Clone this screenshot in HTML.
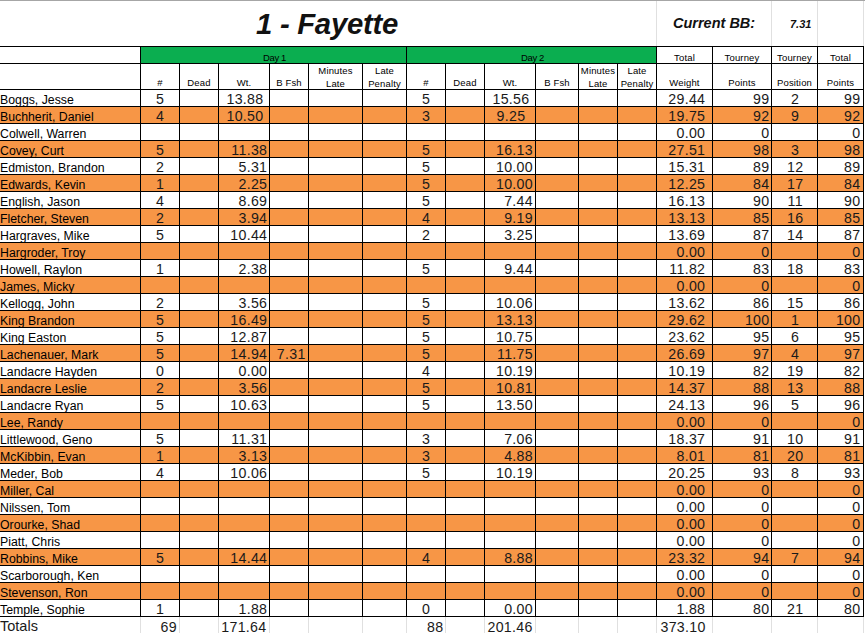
<!DOCTYPE html>
<html><head><meta charset="utf-8"><title>1 - Fayette</title>
<style>
html,body{margin:0;padding:0;background:#fff;}
body{width:865px;height:633px;overflow:hidden;position:relative;font-family:"Liberation Sans",sans-serif;color:#1a1a1a;}
div{position:absolute;white-space:nowrap;box-sizing:border-box;}
.h{background:#000;height:1px;}
.v{background:#000;width:1px;}
.g{background:#e0e0e0;}
.o{background:#F79646;left:0;width:864px;height:16px;}
.n{font-size:12.3px;color:#000;left:0px;height:16px;line-height:17px;margin-top:1.7px;}
.c{font-size:14.2px;letter-spacing:0.3px;text-align:center;height:16px;line-height:17px;margin-top:1px;}
.r{font-size:14.2px;letter-spacing:0.3px;text-align:right;height:16px;line-height:17px;margin-top:1px;}
.hd{font-size:9.5px;letter-spacing:0.15px;text-align:center;line-height:13px;color:#000;}
</style></head><body>
<div class="g" style="left:0;top:0;width:865px;height:1px;background:#a6a6a6"></div>
<div class="g" style="left:656px;top:1px;width:1px;height:45px"></div>
<div class="g" style="left:771px;top:1px;width:1px;height:45px"></div>
<div class="g" style="left:817px;top:1px;width:1px;height:45px"></div>
<div class="g" style="left:863px;top:1px;width:1px;height:45px"></div>
<div style="left:256px;top:7.6px;font-size:29.3px;letter-spacing:-0.27px;font-weight:bold;font-style:italic;line-height:32px;color:#111">1 - Fayette</div>
<div style="left:673px;top:14px;font-size:14.5px;font-weight:bold;font-style:italic;line-height:18px;color:#111">Current BB:</div>
<div style="left:790px;top:17px;font-size:11px;font-weight:bold;font-style:italic;line-height:14px;color:#111">7.31</div>
<div style="left:141px;top:47px;width:515px;height:16px;background:#0BAE50"></div>
<div class="o" style="top:107px"></div>
<div class="o" style="top:141px"></div>
<div class="o" style="top:175px"></div>
<div class="o" style="top:209px"></div>
<div class="o" style="top:243px"></div>
<div class="o" style="top:277px"></div>
<div class="o" style="top:311px"></div>
<div class="o" style="top:345px"></div>
<div class="o" style="top:379px"></div>
<div class="o" style="top:413px"></div>
<div class="o" style="top:447px"></div>
<div class="o" style="top:481px"></div>
<div class="o" style="top:515px"></div>
<div class="o" style="top:549px"></div>
<div class="o" style="top:583px"></div>
<div class="h" style="left:0;top:46px;width:864px"></div>
<div class="h" style="left:0;top:63px;width:864px"></div>
<div class="h" style="left:0;top:89px;width:864px"></div>
<div class="h" style="left:0;top:106px;width:864px"></div>
<div class="h" style="left:0;top:123px;width:864px"></div>
<div class="h" style="left:0;top:140px;width:864px"></div>
<div class="h" style="left:0;top:157px;width:864px"></div>
<div class="h" style="left:0;top:174px;width:864px"></div>
<div class="h" style="left:0;top:191px;width:864px"></div>
<div class="h" style="left:0;top:208px;width:864px"></div>
<div class="h" style="left:0;top:225px;width:864px"></div>
<div class="h" style="left:0;top:242px;width:864px"></div>
<div class="h" style="left:0;top:259px;width:864px"></div>
<div class="h" style="left:0;top:276px;width:864px"></div>
<div class="h" style="left:0;top:293px;width:864px"></div>
<div class="h" style="left:0;top:310px;width:864px"></div>
<div class="h" style="left:0;top:327px;width:864px"></div>
<div class="h" style="left:0;top:344px;width:864px"></div>
<div class="h" style="left:0;top:361px;width:864px"></div>
<div class="h" style="left:0;top:378px;width:864px"></div>
<div class="h" style="left:0;top:395px;width:864px"></div>
<div class="h" style="left:0;top:412px;width:864px"></div>
<div class="h" style="left:0;top:429px;width:864px"></div>
<div class="h" style="left:0;top:446px;width:864px"></div>
<div class="h" style="left:0;top:463px;width:864px"></div>
<div class="h" style="left:0;top:480px;width:864px"></div>
<div class="h" style="left:0;top:497px;width:864px"></div>
<div class="h" style="left:0;top:514px;width:864px"></div>
<div class="h" style="left:0;top:531px;width:864px"></div>
<div class="h" style="left:0;top:548px;width:864px"></div>
<div class="h" style="left:0;top:565px;width:864px"></div>
<div class="h" style="left:0;top:582px;width:864px"></div>
<div class="h" style="left:0;top:599px;width:864px"></div>
<div class="h" style="left:0;top:616px;width:864px"></div>
<div class="v" style="left:140px;top:46px;height:571px"></div>
<div class="v" style="left:179px;top:63px;height:554px"></div>
<div class="v" style="left:218px;top:63px;height:554px"></div>
<div class="v" style="left:269px;top:63px;height:554px"></div>
<div class="v" style="left:308px;top:63px;height:554px"></div>
<div class="v" style="left:362px;top:63px;height:554px"></div>
<div class="v" style="left:406px;top:46px;height:571px"></div>
<div class="v" style="left:445px;top:63px;height:554px"></div>
<div class="v" style="left:484px;top:63px;height:554px"></div>
<div class="v" style="left:535px;top:63px;height:554px"></div>
<div class="v" style="left:578px;top:63px;height:554px"></div>
<div class="v" style="left:617px;top:63px;height:554px"></div>
<div class="v" style="left:656px;top:46px;height:571px"></div>
<div class="v" style="left:712px;top:46px;height:571px"></div>
<div class="v" style="left:771px;top:46px;height:571px"></div>
<div class="v" style="left:817px;top:46px;height:571px"></div>
<div class="v" style="left:863px;top:46px;height:571px"></div>
<div class="g" style="left:140px;top:617px;width:1px;height:16px"></div>
<div class="g" style="left:179px;top:617px;width:1px;height:16px"></div>
<div class="g" style="left:218px;top:617px;width:1px;height:16px"></div>
<div class="g" style="left:269px;top:617px;width:1px;height:16px"></div>
<div class="g" style="left:308px;top:617px;width:1px;height:16px"></div>
<div class="g" style="left:362px;top:617px;width:1px;height:16px"></div>
<div class="g" style="left:406px;top:617px;width:1px;height:16px"></div>
<div class="g" style="left:445px;top:617px;width:1px;height:16px"></div>
<div class="g" style="left:484px;top:617px;width:1px;height:16px"></div>
<div class="g" style="left:535px;top:617px;width:1px;height:16px"></div>
<div class="g" style="left:578px;top:617px;width:1px;height:16px"></div>
<div class="g" style="left:617px;top:617px;width:1px;height:16px"></div>
<div class="g" style="left:656px;top:617px;width:1px;height:16px"></div>
<div class="g" style="left:712px;top:617px;width:1px;height:16px"></div>
<div class="g" style="left:771px;top:617px;width:1px;height:16px"></div>
<div class="g" style="left:817px;top:617px;width:1px;height:16px"></div>
<div class="g" style="left:863px;top:617px;width:1px;height:16px"></div>
<div class="hd" style="left:141px;top:50.8px;width:267px;letter-spacing:-0.4px">Day 1</div>
<div class="hd" style="left:407px;top:50.8px;width:251px;letter-spacing:-0.4px">Day 2</div>
<div class="hd" style="left:657px;top:50.8px;width:55px">Total</div>
<div class="hd" style="left:713px;top:50.8px;width:58px">Tourney</div>
<div class="hd" style="left:772px;top:50.8px;width:45px">Tourney</div>
<div class="hd" style="left:818px;top:50.8px;width:45px">Total</div>
<div class="hd" style="left:141px;top:76.4px;width:38px">#</div>
<div class="hd" style="left:180px;top:76.4px;width:38px">Dead</div>
<div class="hd" style="left:219px;top:76.4px;width:50px">Wt.</div>
<div class="hd" style="left:270px;top:76.4px;width:38px">B Fsh</div>
<div class="hd" style="left:309px;top:63.5px;width:53px">Minutes<br>Late</div>
<div class="hd" style="left:363px;top:63.5px;width:43px">Late<br>Penalty</div>
<div class="hd" style="left:407px;top:76.4px;width:38px">#</div>
<div class="hd" style="left:446px;top:76.4px;width:38px">Dead</div>
<div class="hd" style="left:485px;top:76.4px;width:50px">Wt.</div>
<div class="hd" style="left:536px;top:76.4px;width:42px">B Fsh</div>
<div class="hd" style="left:579px;top:63.5px;width:38px">Minutes<br>Late</div>
<div class="hd" style="left:618px;top:63.5px;width:38px">Late<br>Penalty</div>
<div class="hd" style="left:657px;top:76.4px;width:55px">Weight</div>
<div class="hd" style="left:713px;top:76.4px;width:58px">Points</div>
<div class="hd" style="left:772px;top:76.4px;width:45px">Position</div>
<div class="hd" style="left:818px;top:76.4px;width:45px">Points</div>
<div class="n" style="top:90px">Boggs, Jesse</div>
<div class="c" style="left:141px;top:90px;width:38px">5</div>
<div class="c" style="left:220px;top:90px;width:50px">13.88</div>
<div class="c" style="left:407px;top:90px;width:38px">5</div>
<div class="c" style="left:486px;top:90px;width:50px">15.56</div>
<div class="r" style="left:657px;top:90px;width:48.3px">29.44</div>
<div class="r" style="left:713px;top:90px;width:56.5px">99</div>
<div class="c" style="left:772.7px;top:90px;width:45px">2</div>
<div class="r" style="left:818px;top:90px;width:42.5px">99</div>
<div class="n" style="top:107px">Buchherit, Daniel</div>
<div class="c" style="left:141px;top:107px;width:38px">4</div>
<div class="c" style="left:220px;top:107px;width:50px">10.50</div>
<div class="c" style="left:407px;top:107px;width:38px">3</div>
<div class="c" style="left:486px;top:107px;width:50px">9.25</div>
<div class="r" style="left:657px;top:107px;width:48.3px">19.75</div>
<div class="r" style="left:713px;top:107px;width:56.5px">92</div>
<div class="c" style="left:772.7px;top:107px;width:45px">9</div>
<div class="r" style="left:818px;top:107px;width:42.5px">92</div>
<div class="n" style="top:124px">Colwell, Warren</div>
<div class="r" style="left:657px;top:124px;width:48.3px">0.00</div>
<div class="r" style="left:713px;top:124px;width:56.5px">0</div>
<div class="r" style="left:818px;top:124px;width:42.5px">0</div>
<div class="n" style="top:141px">Covey, Curt</div>
<div class="c" style="left:141px;top:141px;width:38px">5</div>
<div class="r" style="left:219px;top:141px;width:48.3px">11.38</div>
<div class="c" style="left:407px;top:141px;width:38px">5</div>
<div class="r" style="left:485px;top:141px;width:48px">16.13</div>
<div class="r" style="left:657px;top:141px;width:48.3px">27.51</div>
<div class="r" style="left:713px;top:141px;width:56.5px">98</div>
<div class="c" style="left:772.7px;top:141px;width:45px">3</div>
<div class="r" style="left:818px;top:141px;width:42.5px">98</div>
<div class="n" style="top:158px">Edmiston, Brandon</div>
<div class="c" style="left:141px;top:158px;width:38px">2</div>
<div class="r" style="left:219px;top:158px;width:48.3px">5.31</div>
<div class="c" style="left:407px;top:158px;width:38px">5</div>
<div class="r" style="left:485px;top:158px;width:48px">10.00</div>
<div class="r" style="left:657px;top:158px;width:48.3px">15.31</div>
<div class="r" style="left:713px;top:158px;width:56.5px">89</div>
<div class="c" style="left:772.7px;top:158px;width:45px">12</div>
<div class="r" style="left:818px;top:158px;width:42.5px">89</div>
<div class="n" style="top:175px">Edwards, Kevin</div>
<div class="c" style="left:141px;top:175px;width:38px">1</div>
<div class="r" style="left:219px;top:175px;width:48.3px">2.25</div>
<div class="c" style="left:407px;top:175px;width:38px">5</div>
<div class="r" style="left:485px;top:175px;width:48px">10.00</div>
<div class="r" style="left:657px;top:175px;width:48.3px">12.25</div>
<div class="r" style="left:713px;top:175px;width:56.5px">84</div>
<div class="c" style="left:772.7px;top:175px;width:45px">17</div>
<div class="r" style="left:818px;top:175px;width:42.5px">84</div>
<div class="n" style="top:192px">English, Jason</div>
<div class="c" style="left:141px;top:192px;width:38px">4</div>
<div class="r" style="left:219px;top:192px;width:48.3px">8.69</div>
<div class="c" style="left:407px;top:192px;width:38px">5</div>
<div class="r" style="left:485px;top:192px;width:48px">7.44</div>
<div class="r" style="left:657px;top:192px;width:48.3px">16.13</div>
<div class="r" style="left:713px;top:192px;width:56.5px">90</div>
<div class="c" style="left:772.7px;top:192px;width:45px">11</div>
<div class="r" style="left:818px;top:192px;width:42.5px">90</div>
<div class="n" style="top:209px">Fletcher, Steven</div>
<div class="c" style="left:141px;top:209px;width:38px">2</div>
<div class="r" style="left:219px;top:209px;width:48.3px">3.94</div>
<div class="c" style="left:407px;top:209px;width:38px">4</div>
<div class="r" style="left:485px;top:209px;width:48px">9.19</div>
<div class="r" style="left:657px;top:209px;width:48.3px">13.13</div>
<div class="r" style="left:713px;top:209px;width:56.5px">85</div>
<div class="c" style="left:772.7px;top:209px;width:45px">16</div>
<div class="r" style="left:818px;top:209px;width:42.5px">85</div>
<div class="n" style="top:226px">Hargraves, Mike</div>
<div class="c" style="left:141px;top:226px;width:38px">5</div>
<div class="r" style="left:219px;top:226px;width:48.3px">10.44</div>
<div class="c" style="left:407px;top:226px;width:38px">2</div>
<div class="r" style="left:485px;top:226px;width:48px">3.25</div>
<div class="r" style="left:657px;top:226px;width:48.3px">13.69</div>
<div class="r" style="left:713px;top:226px;width:56.5px">87</div>
<div class="c" style="left:772.7px;top:226px;width:45px">14</div>
<div class="r" style="left:818px;top:226px;width:42.5px">87</div>
<div class="n" style="top:243px">Hargroder, Troy</div>
<div class="r" style="left:657px;top:243px;width:48.3px">0.00</div>
<div class="r" style="left:713px;top:243px;width:56.5px">0</div>
<div class="r" style="left:818px;top:243px;width:42.5px">0</div>
<div class="n" style="top:260px">Howell, Raylon</div>
<div class="c" style="left:141px;top:260px;width:38px">1</div>
<div class="r" style="left:219px;top:260px;width:48.3px">2.38</div>
<div class="c" style="left:407px;top:260px;width:38px">5</div>
<div class="r" style="left:485px;top:260px;width:48px">9.44</div>
<div class="r" style="left:657px;top:260px;width:48.3px">11.82</div>
<div class="r" style="left:713px;top:260px;width:56.5px">83</div>
<div class="c" style="left:772.7px;top:260px;width:45px">18</div>
<div class="r" style="left:818px;top:260px;width:42.5px">83</div>
<div class="n" style="top:277px">James, Micky</div>
<div class="r" style="left:657px;top:277px;width:48.3px">0.00</div>
<div class="r" style="left:713px;top:277px;width:56.5px">0</div>
<div class="r" style="left:818px;top:277px;width:42.5px">0</div>
<div class="n" style="top:294px">Kellogg, John</div>
<div class="c" style="left:141px;top:294px;width:38px">2</div>
<div class="r" style="left:219px;top:294px;width:48.3px">3.56</div>
<div class="c" style="left:407px;top:294px;width:38px">5</div>
<div class="r" style="left:485px;top:294px;width:48px">10.06</div>
<div class="r" style="left:657px;top:294px;width:48.3px">13.62</div>
<div class="r" style="left:713px;top:294px;width:56.5px">86</div>
<div class="c" style="left:772.7px;top:294px;width:45px">15</div>
<div class="r" style="left:818px;top:294px;width:42.5px">86</div>
<div class="n" style="top:311px">King Brandon</div>
<div class="c" style="left:141px;top:311px;width:38px">5</div>
<div class="r" style="left:219px;top:311px;width:48.3px">16.49</div>
<div class="c" style="left:407px;top:311px;width:38px">5</div>
<div class="r" style="left:485px;top:311px;width:48px">13.13</div>
<div class="r" style="left:657px;top:311px;width:48.3px">29.62</div>
<div class="r" style="left:713px;top:311px;width:56.5px">100</div>
<div class="c" style="left:772.7px;top:311px;width:45px">1</div>
<div class="r" style="left:818px;top:311px;width:42.5px">100</div>
<div class="n" style="top:328px">King Easton</div>
<div class="c" style="left:141px;top:328px;width:38px">5</div>
<div class="r" style="left:219px;top:328px;width:48.3px">12.87</div>
<div class="c" style="left:407px;top:328px;width:38px">5</div>
<div class="r" style="left:485px;top:328px;width:48px">10.75</div>
<div class="r" style="left:657px;top:328px;width:48.3px">23.62</div>
<div class="r" style="left:713px;top:328px;width:56.5px">95</div>
<div class="c" style="left:772.7px;top:328px;width:45px">6</div>
<div class="r" style="left:818px;top:328px;width:42.5px">95</div>
<div class="n" style="top:345px">Lachenauer, Mark</div>
<div class="c" style="left:141px;top:345px;width:38px">5</div>
<div class="r" style="left:219px;top:345px;width:48.3px">14.94</div>
<div class="r" style="left:270px;top:345px;width:35.7px">7.31</div>
<div class="c" style="left:407px;top:345px;width:38px">5</div>
<div class="r" style="left:485px;top:345px;width:48px">11.75</div>
<div class="r" style="left:657px;top:345px;width:48.3px">26.69</div>
<div class="r" style="left:713px;top:345px;width:56.5px">97</div>
<div class="c" style="left:772.7px;top:345px;width:45px">4</div>
<div class="r" style="left:818px;top:345px;width:42.5px">97</div>
<div class="n" style="top:362px">Landacre Hayden</div>
<div class="c" style="left:141px;top:362px;width:38px">0</div>
<div class="r" style="left:219px;top:362px;width:48.3px">0.00</div>
<div class="c" style="left:407px;top:362px;width:38px">4</div>
<div class="r" style="left:485px;top:362px;width:48px">10.19</div>
<div class="r" style="left:657px;top:362px;width:48.3px">10.19</div>
<div class="r" style="left:713px;top:362px;width:56.5px">82</div>
<div class="c" style="left:772.7px;top:362px;width:45px">19</div>
<div class="r" style="left:818px;top:362px;width:42.5px">82</div>
<div class="n" style="top:379px">Landacre Leslie</div>
<div class="c" style="left:141px;top:379px;width:38px">2</div>
<div class="r" style="left:219px;top:379px;width:48.3px">3.56</div>
<div class="c" style="left:407px;top:379px;width:38px">5</div>
<div class="r" style="left:485px;top:379px;width:48px">10.81</div>
<div class="r" style="left:657px;top:379px;width:48.3px">14.37</div>
<div class="r" style="left:713px;top:379px;width:56.5px">88</div>
<div class="c" style="left:772.7px;top:379px;width:45px">13</div>
<div class="r" style="left:818px;top:379px;width:42.5px">88</div>
<div class="n" style="top:396px">Landacre Ryan</div>
<div class="c" style="left:141px;top:396px;width:38px">5</div>
<div class="r" style="left:219px;top:396px;width:48.3px">10.63</div>
<div class="c" style="left:407px;top:396px;width:38px">5</div>
<div class="r" style="left:485px;top:396px;width:48px">13.50</div>
<div class="r" style="left:657px;top:396px;width:48.3px">24.13</div>
<div class="r" style="left:713px;top:396px;width:56.5px">96</div>
<div class="c" style="left:772.7px;top:396px;width:45px">5</div>
<div class="r" style="left:818px;top:396px;width:42.5px">96</div>
<div class="n" style="top:413px">Lee, Randy</div>
<div class="r" style="left:657px;top:413px;width:48.3px">0.00</div>
<div class="r" style="left:713px;top:413px;width:56.5px">0</div>
<div class="r" style="left:818px;top:413px;width:42.5px">0</div>
<div class="n" style="top:430px">Littlewood, Geno</div>
<div class="c" style="left:141px;top:430px;width:38px">5</div>
<div class="r" style="left:219px;top:430px;width:48.3px">11.31</div>
<div class="c" style="left:407px;top:430px;width:38px">3</div>
<div class="r" style="left:485px;top:430px;width:48px">7.06</div>
<div class="r" style="left:657px;top:430px;width:48.3px">18.37</div>
<div class="r" style="left:713px;top:430px;width:56.5px">91</div>
<div class="c" style="left:772.7px;top:430px;width:45px">10</div>
<div class="r" style="left:818px;top:430px;width:42.5px">91</div>
<div class="n" style="top:447px">McKibbin, Evan</div>
<div class="c" style="left:141px;top:447px;width:38px">1</div>
<div class="r" style="left:219px;top:447px;width:48.3px">3.13</div>
<div class="c" style="left:407px;top:447px;width:38px">3</div>
<div class="r" style="left:485px;top:447px;width:48px">4.88</div>
<div class="r" style="left:657px;top:447px;width:48.3px">8.01</div>
<div class="r" style="left:713px;top:447px;width:56.5px">81</div>
<div class="c" style="left:772.7px;top:447px;width:45px">20</div>
<div class="r" style="left:818px;top:447px;width:42.5px">81</div>
<div class="n" style="top:464px">Meder, Bob</div>
<div class="c" style="left:141px;top:464px;width:38px">4</div>
<div class="r" style="left:219px;top:464px;width:48.3px">10.06</div>
<div class="c" style="left:407px;top:464px;width:38px">5</div>
<div class="r" style="left:485px;top:464px;width:48px">10.19</div>
<div class="r" style="left:657px;top:464px;width:48.3px">20.25</div>
<div class="r" style="left:713px;top:464px;width:56.5px">93</div>
<div class="c" style="left:772.7px;top:464px;width:45px">8</div>
<div class="r" style="left:818px;top:464px;width:42.5px">93</div>
<div class="n" style="top:481px">Miller, Cal</div>
<div class="r" style="left:657px;top:481px;width:48.3px">0.00</div>
<div class="r" style="left:713px;top:481px;width:56.5px">0</div>
<div class="r" style="left:818px;top:481px;width:42.5px">0</div>
<div class="n" style="top:498px">Nilssen, Tom</div>
<div class="r" style="left:657px;top:498px;width:48.3px">0.00</div>
<div class="r" style="left:713px;top:498px;width:56.5px">0</div>
<div class="r" style="left:818px;top:498px;width:42.5px">0</div>
<div class="n" style="top:515px">Orourke, Shad</div>
<div class="r" style="left:657px;top:515px;width:48.3px">0.00</div>
<div class="r" style="left:713px;top:515px;width:56.5px">0</div>
<div class="r" style="left:818px;top:515px;width:42.5px">0</div>
<div class="n" style="top:532px">Piatt, Chris</div>
<div class="r" style="left:657px;top:532px;width:48.3px">0.00</div>
<div class="r" style="left:713px;top:532px;width:56.5px">0</div>
<div class="r" style="left:818px;top:532px;width:42.5px">0</div>
<div class="n" style="top:549px">Robbins, Mike</div>
<div class="c" style="left:141px;top:549px;width:38px">5</div>
<div class="r" style="left:219px;top:549px;width:48.3px">14.44</div>
<div class="c" style="left:407px;top:549px;width:38px">4</div>
<div class="r" style="left:485px;top:549px;width:48px">8.88</div>
<div class="r" style="left:657px;top:549px;width:48.3px">23.32</div>
<div class="r" style="left:713px;top:549px;width:56.5px">94</div>
<div class="c" style="left:772.7px;top:549px;width:45px">7</div>
<div class="r" style="left:818px;top:549px;width:42.5px">94</div>
<div class="n" style="top:566px">Scarborough, Ken</div>
<div class="r" style="left:657px;top:566px;width:48.3px">0.00</div>
<div class="r" style="left:713px;top:566px;width:56.5px">0</div>
<div class="r" style="left:818px;top:566px;width:42.5px">0</div>
<div class="n" style="top:583px">Stevenson, Ron</div>
<div class="r" style="left:657px;top:583px;width:48.3px">0.00</div>
<div class="r" style="left:713px;top:583px;width:56.5px">0</div>
<div class="r" style="left:818px;top:583px;width:42.5px">0</div>
<div class="n" style="top:600px">Temple, Sophie</div>
<div class="c" style="left:141px;top:600px;width:38px">1</div>
<div class="r" style="left:219px;top:600px;width:48.3px">1.88</div>
<div class="c" style="left:407px;top:600px;width:38px">0</div>
<div class="r" style="left:485px;top:600px;width:48px">0.00</div>
<div class="r" style="left:657px;top:600px;width:48.3px">1.88</div>
<div class="r" style="left:713px;top:600px;width:56.5px">80</div>
<div class="c" style="left:772.7px;top:600px;width:45px">21</div>
<div class="r" style="left:818px;top:600px;width:42.5px">80</div>
<div style="left:0px;top:617px;font-size:14.5px;line-height:18px;margin-top:0.3px">Totals</div>
<div class="r" style="left:97px;top:617px;width:80px;line-height:18px">69</div>
<div class="r" style="left:186.5px;top:617px;width:80px;line-height:18px">171.64</div>
<div class="r" style="left:363.5px;top:617px;width:80px;line-height:18px">88</div>
<div class="r" style="left:452.70000000000005px;top:617px;width:80px;line-height:18px">201.46</div>
<div class="r" style="left:625.7px;top:617px;width:80px;line-height:18px">373.10</div>
</body></html>
